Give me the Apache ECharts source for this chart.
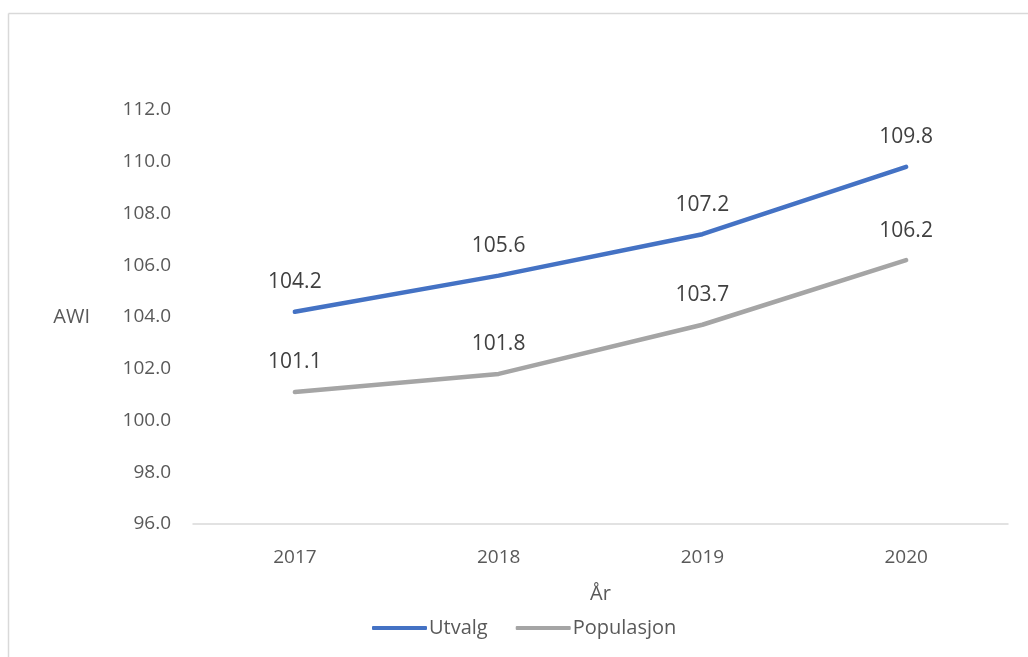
<!DOCTYPE html>
<html>
<head>
<meta charset="utf-8">
<script src="https://cdn.jsdelivr.net/npm/echarts@6/dist/echarts.min.js"></script>
<style>
html,body{margin:0;padding:0;background:#fff;}
#c{width:1028px;height:657px;}
</style>
</head>
<body>
<div id="c"></div>
<script>
const years = ['2017', '2018', '2019', '2020'];
const utvalg = [104.2, 105.6, 107.2, 109.8];
const populasjon = [101.1, 101.8, 103.7, 106.2];
const seriesNames = ['Utvalg', 'Populasjon'];

const font = '"Open Sans", "Noto Sans", sans-serif';
const chart = echarts.init(document.getElementById('c'));
const labelCfg = {
  show: true, position: 'top', distance: 19,
  color: '#404040', fontSize: 21, fontFamily: font,
  formatter: p => p.value.toFixed(1)
};
chart.setOption({
  animation: false,
  textStyle: { fontFamily: font },
  graphic: [
    { type: 'line', shape: { x1: 8.5, y1: 13.5, x2: 1028, y2: 13.5 }, style: { stroke: '#d9d9d9', lineWidth: 1.5 } },
    { type: 'line', shape: { x1: 8.5, y1: 13.5, x2: 8.5, y2: 657 }, style: { stroke: '#d9d9d9', lineWidth: 1.5 } }
  ],
  grid: { left: 193, right: 20, top: 110, bottom: 133 },
  legend: {
    data: seriesNames,
    bottom: 14, left: 367,
    itemWidth: 55, itemHeight: 4, itemGap: 28,
    icon: 'roundRect',
    textStyle: { color: '#595959', fontSize: 20, fontFamily: font, padding: [0, 0, 0, -3] }
  },
  xAxis: {
    type: 'category', data: years, boundaryGap: true,
    name: 'År', nameLocation: 'middle', nameGap: 60,
    nameTextStyle: { color: '#595959', fontSize: 20, fontFamily: font },
    axisLine: { show: true, lineStyle: { color: '#d9d9d9', width: 1.5 } },
    axisTick: { show: false },
    axisLabel: { color: '#595959', fontSize: 19, margin: 24, fontFamily: font }
  },
  yAxis: {
    type: 'value', min: 96, max: 112, interval: 2,
    name: 'AWI', nameLocation: 'middle', nameRotate: 0, nameGap: 103,
    nameTextStyle: { color: '#595959', fontSize: 20, fontFamily: font, align: 'right' },
    axisLine: { show: false }, axisTick: { show: false },
    splitLine: { show: false },
    axisLabel: { color: '#595959', fontSize: 19, margin: 22, fontFamily: font, formatter: v => v.toFixed(1) }
  },
  series: [
    { name: seriesNames[0], type: 'line', data: utvalg, symbol: 'circle', symbolSize: 0.1, showSymbol: true,
      lineStyle: { color: '#4472C4', width: 4.5, cap: 'round', join: 'round' }, itemStyle: { color: '#4472C4' }, label: labelCfg },
    { name: seriesNames[1], type: 'line', data: populasjon, symbol: 'circle', symbolSize: 0.1, showSymbol: true,
      lineStyle: { color: '#A5A5A5', width: 4.5, cap: 'round', join: 'round' }, itemStyle: { color: '#A5A5A5' }, label: labelCfg }
  ]
});
</script>
</body>
</html>
